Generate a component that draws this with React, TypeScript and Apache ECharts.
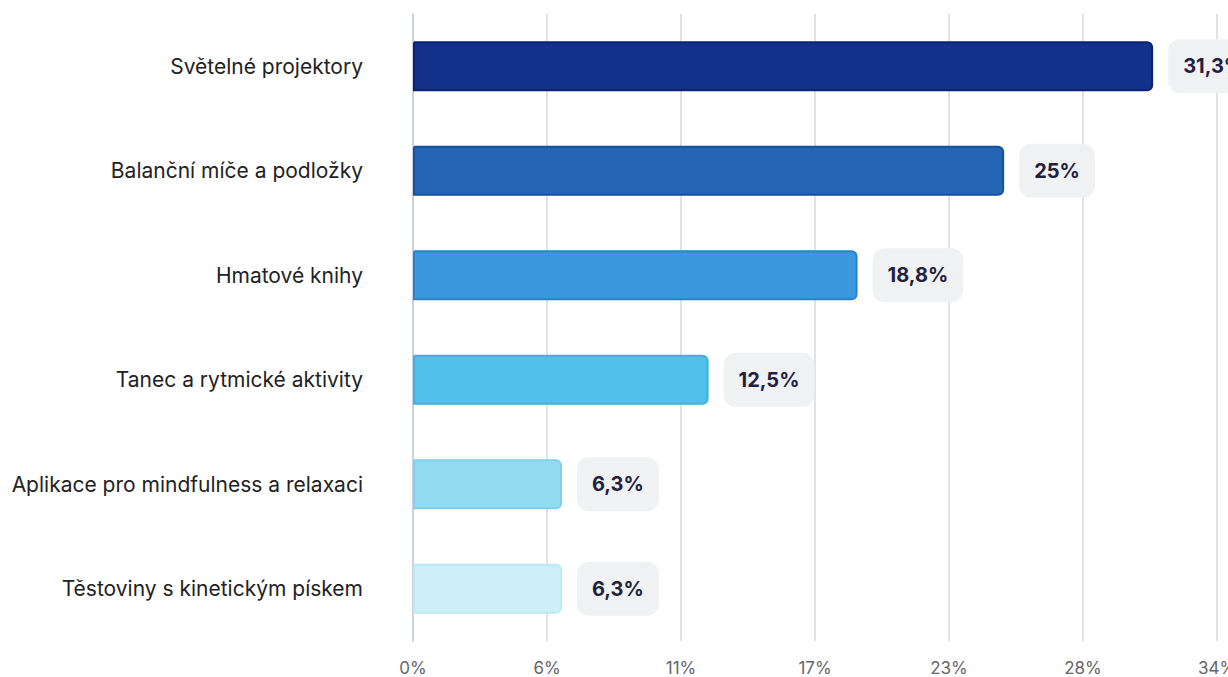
import React, { useEffect, useRef } from "react";
import * as echarts from "echarts";

const categories = [
  "Světelné projektory",
  "Balanční míče a podložky",
  "Hmatové knihy",
  "Tanec a rytmické aktivity",
  "Aplikace pro mindfulness a relaxaci",
  "Těstoviny s kinetickým pískem",
];
const values = [31.3, 25, 18.8, 12.5, 6.3, 6.3];
const barColors = ["#13318a", "#2466b4", "#3a99dd", "#4fc0ea", "#92dcf2", "#cdf0f8"];
const borderColors = ["#0a236e", "#18509a", "#2a82c6", "#3fb0dc", "#80d0ea", "#bde8f4"];
const axisMax = 34;
const tickCount = 6;

export default function App() {
  const ref = useRef<HTMLDivElement>(null);
  useEffect(() => {
    if (!ref.current) return;
    const chart = echarts.init(ref.current, null, { renderer: "svg" });
    const fmt = (v: number) => (Math.round(v * 10) / 10).toString().replace(".", ",") + "%";
    chart.setOption({
      animation: false,
      textStyle: { fontFamily: "Inter" },
      grid: {
        left: 413,
        right: 11,
        top: 14,
        bottom: 36,
        containLabel: false,
        outerBoundsMode: "none",
      },
      xAxis: {
        type: "value",
        min: 0,
        max: axisMax,
        interval: axisMax / tickCount,
        axisLine: { show: false },
        axisTick: { show: false },
        splitLine: { show: true, lineStyle: { color: "#d9d9d9", width: 1.5 } },
        axisLabel: {
          color: "#666",
          fontSize: 17,
          fontFamily: "Inter",
          margin: 18,
          formatter: (v: number) => Math.round(v) + "%",
        },
      },
      yAxis: {
        type: "category",
        data: categories,
        inverse: true,
        axisLine: { show: true, lineStyle: { color: "#c5cbe0", width: 1.5 } },
        axisTick: { show: false },
        axisLabel: {
          color: "#222",
          fontSize: 21,
          fontFamily: "Inter",
          margin: 50,
        },
      },
      series: [
        {
          type: "bar",
          barWidth: 50,
          data: values.map((v, i) => ({
            value: v,
            itemStyle: {
              color: barColors[i],
              borderColor: borderColors[i],
              borderWidth: 2,
              borderRadius: [0, 5, 5, 0],
            },
          })),
          label: {
            show: true,
            position: "right",
            distance: 15,
            formatter: (p: any) => fmt(p.value),
            color: "#1e2140",
            fontSize: 20,
            fontWeight: "bold",
            fontFamily: "Inter",
            backgroundColor: "#f0f1f2",
            borderRadius: 12,
            padding: [16, 15, 16, 15],
            lineHeight: 22,
          },
        },
      ],
    });
    return () => chart.dispose();
  }, []);
  return (
    <div
      ref={ref}
      style={{ position: "fixed", left: 0, top: 0, width: 1228, height: 677, background: "#fff" }}
    />
  );
}
